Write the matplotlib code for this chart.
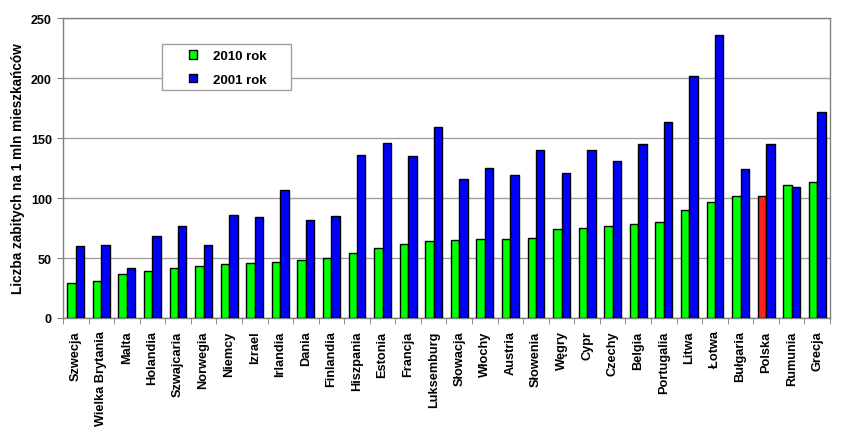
import numpy as np
import matplotlib.pyplot as plt
from matplotlib.ticker import MultipleLocator, FixedLocator
from matplotlib.patches import Rectangle, Patch

plt.rcParams['font.family'] = ['Liberation Sans', 'DejaVu Sans']

kraje = ["Szwecja", "Wielka Brytania", "Malta", "Holandia", "Szwajcaria", "Norwegia",
         "Niemcy", "Izrael", "Irlandia", "Dania", "Finlandia", "Hiszpania", "Estonia",
         "Francja", "Luksemburg", "Słowacja", "Włochy", "Austria", "Słowenia", "Węgry",
         "Cypr", "Czechy", "Belgia", "Portugalia", "Litwa", "Łotwa", "Bułgaria",
         "Polska", "Rumunia", "Grecja"]
rok_2010 = [29, 31, 37, 39, 42, 43, 45, 46, 47, 48, 50, 54, 58, 62, 64,
            65, 66, 66, 67, 74, 75, 77, 78, 80, 90, 97, 102, 102, 111, 113]
rok_2001 = [60, 61, 42, 68, 77, 61, 86, 84, 107, 82, 85, 136, 146, 135, 159,
            116, 125, 119, 140, 121, 140, 131, 145, 163, 202, 236, 124, 145, 109, 172]

x = np.arange(len(kraje))
w = 0.33
kolory = ["#ff2020" if k == "Polska" else "#00ff00" for k in kraje]

fig = plt.figure(figsize=(8.45, 4.35), dpi=100)
ax = fig.add_axes([63 / 845, 116 / 435, 767 / 845, 300 / 435])

ax.bar(x - w / 2, rok_2010, w, color=kolory, edgecolor="black", linewidth=1, zorder=3)
ax.bar(x + w / 2, rok_2001, w, color="#0000ff", edgecolor="black", linewidth=1, zorder=3)

ax.set_xlim(-0.5, len(kraje) - 0.5)
ax.set_ylim(0, 250)
ax.yaxis.set_major_locator(MultipleLocator(50))
ax.yaxis.grid(True, color="#a0a0a0", linewidth=1, zorder=0)

ax.set_xticks(x)
ax.set_xticklabels(kraje, rotation=90, fontsize=9.2, fontweight="bold")
ax.xaxis.set_minor_locator(FixedLocator(np.arange(-0.5, len(kraje), 1)))
ax.tick_params(axis="x", which="major", length=0, pad=9)
ax.tick_params(axis="x", which="minor", length=4, color="#808080")
ax.tick_params(axis="y", length=4, color="#808080", labelsize=9, pad=4)
for t in ax.get_yticklabels():
    t.set_fontweight("bold")

for s in ax.spines.values():
    s.set_color("#808080")
    s.set_linewidth(1)

ax.set_ylabel("Liczba zabitych na 1 mln mieszkańców", fontsize=9.8, fontweight="bold", labelpad=4)

# ramka legendy
ramka = Rectangle((162 / 845, 1 - 91 / 435), 129 / 845, 46 / 435, transform=fig.transFigure,
                  facecolor="white", edgecolor="#a0a0a0", linewidth=1, zorder=4, clip_on=False)
ax.add_artist(ramka)

uchwyty = [Patch(facecolor="#00ff00", edgecolor="black", label="2010 rok"),
           Patch(facecolor="#0000ff", edgecolor="black", label="2001 rok")]
leg = ax.legend(handles=uchwyty, loc="upper left", bbox_to_anchor=(189 / 845, 1 - 51 / 435),
                bbox_transform=fig.transFigure, borderaxespad=0, borderpad=0, frameon=False,
                prop={"weight": "bold", "size": 9.5}, handlelength=0.6, handleheight=0.6,
                labelspacing=0.9, handletextpad=1.2)
leg.set_zorder(5)

fig.savefig("out.png", dpi=100)
